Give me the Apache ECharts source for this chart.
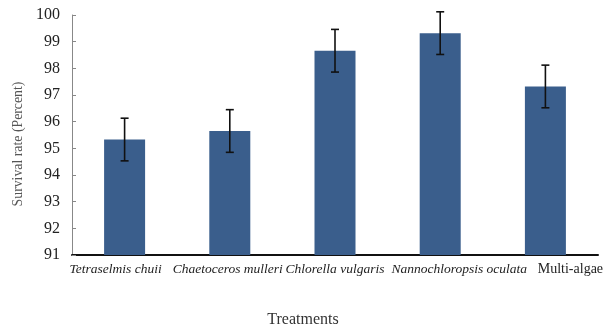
<!DOCTYPE html>
<html>
<head>
<meta charset="utf-8">
<script src="https://cdn.jsdelivr.net/npm/echarts@6/dist/echarts.min.js"></script>
<style>html,body{margin:0;padding:0;background:#fff;}#c{width:610px;height:330px;}</style>
</head>
<body>
<div id="c"></div>
<script>
var categories = ['Tetraselmis chuii', 'Chaetoceros mulleri', 'Chlorella vulgaris', 'Nannochloropsis oculata', 'Multi-algae'];
var survival = [95.33, 95.65, 98.66, 99.32, 97.32];
var errors = [0.8, 0.8, 0.8, 0.8, 0.8];
var yTicks = [91, 92, 93, 94, 95, 96, 97, 98, 99, 100];

// label styling (not data)
var italicFlags = [true, true, true, true, false];
var labelNudge = [-9, -2, 0, 19, 25];

var serif = '"Liberation Serif", "DejaVu Serif", serif';
var chart = echarts.init(document.getElementById('c'), null, {renderer: 'canvas'});

var catData = categories.map(function (c, i) {
  var n = labelNudge[i];
  return {
    value: c,
    textStyle: {
      fontStyle: italicFlags[i] ? 'italic' : 'normal',
      fontSize: italicFlags[i] ? 13.5 : 14,
      padding: n >= 0 ? [0, 0, 0, 2 * n] : [0, -2 * n, 0, 0]
    }
  };
});
var errData = survival.map(function (v, i) { return [i, v - errors[i], v + errors[i]]; });

chart.setOption({
  backgroundColor: '#fff',
  animation: false,
  grid: {left: 72, right: 12, top: 15, bottom: 75, containLabel: false, outerBoundsMode: 'none'},
  xAxis: {
    type: 'category',
    data: catData,
    name: 'Treatments',
    nameLocation: 'middle',
    nameGap: 57,
    nameTextStyle: {fontFamily: serif, fontSize: 16, color: '#333', padding: [0, 64, 0, 0]},
    axisLine: {lineStyle: {color: '#111', width: 2}},
    axisTick: {show: false},
    axisLabel: {interval: 0, margin: 7, fontFamily: serif, fontSize: 13.5, color: '#222'}
  },
  yAxis: {
    type: 'value',
    min: yTicks[0],
    max: yTicks[yTicks.length - 1],
    interval: 1,
    name: 'Survival rate (Percent)',
    nameLocation: 'middle',
    nameGap: 44,
    nameTextStyle: {fontFamily: serif, fontSize: 13.8, color: '#555', padding: [0, 18, 0, 0]},
    axisLine: {show: true, lineStyle: {color: '#888', width: 1}},
    axisTick: {show: true, inside: true, length: 4, lineStyle: {color: '#888'}},
    splitLine: {show: false},
    axisLabel: {fontFamily: serif, fontSize: 16, color: '#222', margin: 12}
  },
  series: [
    {
      type: 'bar',
      data: survival,
      barWidth: 41,
      itemStyle: {color: '#3a5e8c'}
    },
    {
      type: 'custom',
      data: errData,
      z: 10,
      renderItem: function (params, api) {
        var x = api.value(0);
        var lo = api.coord([x, api.value(1)]);
        var hi = api.coord([x, api.value(2)]);
        var cap = 4;
        var st = {stroke: '#111', lineWidth: 1.6};
        return {
          type: 'group',
          children: [
            {type: 'line', shape: {x1: lo[0], y1: lo[1], x2: hi[0], y2: hi[1]}, style: st},
            {type: 'line', shape: {x1: hi[0] - cap, y1: hi[1], x2: hi[0] + cap, y2: hi[1]}, style: st},
            {type: 'line', shape: {x1: lo[0] - cap, y1: lo[1], x2: lo[0] + cap, y2: lo[1]}, style: st}
          ]
        };
      }
    }
  ]
});
</script>
</body>
</html>
